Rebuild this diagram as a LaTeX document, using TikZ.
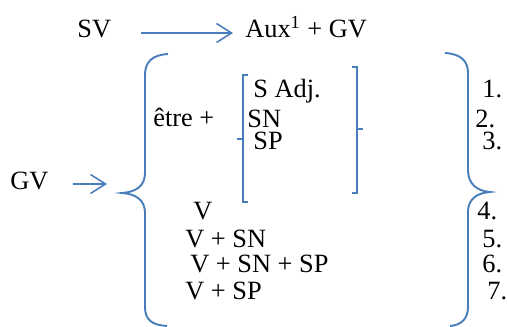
\documentclass[tikz,border=0pt]{standalone}
\usepackage{fontspec}
\setmainfont{Liberation Serif}
\usetikzlibrary{arrows.meta}
\definecolor{wordblue}{RGB}{74,126,187}
\begin{document}
\begin{tikzpicture}[x=0.02cm, y=-0.02cm]
  \tikzstyle{txt} = [anchor=base west, inner sep=0pt, font=\fontsize{15}{18}\selectfont]
  \tikzstyle{arrow} = [draw=wordblue, line width=0.9pt, -{Straight Barb[length=0.3cm, width=0.38cm]}]
  \tikzstyle{brace} = [draw=wordblue, line width=1.1pt]
  \useasboundingbox (0,0) rectangle (507,327);

  \node (sv) [txt] at (77,38) {SV};
  \node (aux) [txt] at (245,38) {Aux\textsuperscript{1} + GV};
  \draw [arrow] ([xshift=0.6cm, yshift=0.1cm]sv.base east) -- ([xshift=-0.24cm, yshift=0.1cm]aux.base west);

  \node (gv) [txt] at (10,190) {GV};
  \coordinate (gvend) at (107,184);
  \draw [arrow] ([xshift=0.48cm, yshift=0.12cm]gv.base east) -- (gvend);

  \draw [brace] (168,54) .. controls (152,55) and (145,62) .. (145,75) -- (145,173)
    .. controls (145,186) and (136,192) .. (122,193) .. controls (136,194) and (145,200) .. (145,213)
    -- (145,307) .. controls (145,320) and (152,325) .. (167,326);
  \draw [brace] (445,53) .. controls (461,54) and (468,61) .. (468,73) -- (468,170)
    .. controls (468,184) and (477,191) .. (490,192) .. controls (477,193) and (468,199) .. (468,212)
    -- (468,307) .. controls (468,318) and (462,325) .. (450,326);

  \node (etre) [txt] at (153,127) {être +};
  \draw [brace] (248,75) -- (243,75) -- (243,202) -- (248,202);
  \draw [brace] (243,139) -- (237,139);
  \draw [brace] (352,67) -- (357,67) -- (357,193) -- (352,193);
  \draw [brace] (357,129) -- (363,129);

  \node (sadj) [txt] at (253,98) {S Adj.};
  \node (sn) [txt] at (247,128) {SN};
  \node (sp) [txt] at (253,150) {SP};

  \node (v) [txt] at (193,220) {V};
  \node (vsn) [txt] at (185,248) {V + SN};
  \node (vsnsp) [txt] at (190,273) {V + SN + SP};
  \node (vsp) [txt] at (185,300) {V + SP};

  \node (n1) [txt] at (482,98) {1.};
  \node (n2) [txt] at (475,128) {2.};
  \node (n3) [txt] at (482,150) {3.};
  \node (n4) [txt] at (477,220) {4.};
  \node (n5) [txt] at (482,248) {5.};
  \node (n6) [txt] at (482,273) {6.};
  \node (n7) [txt] at (487,300) {7.};
\end{tikzpicture}
\end{document}
